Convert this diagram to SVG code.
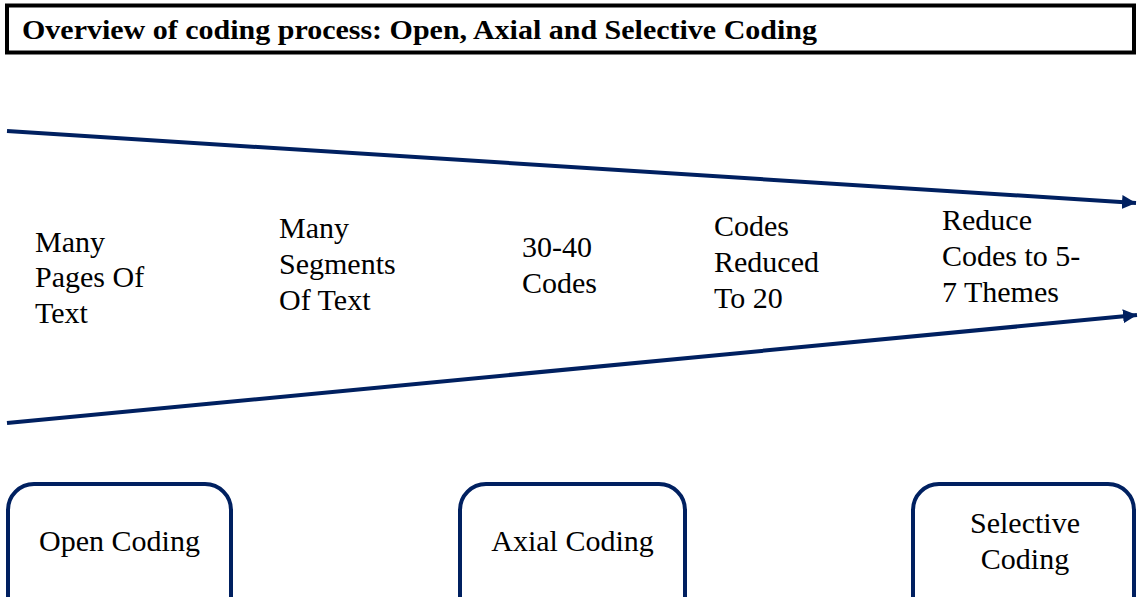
<svg xmlns="http://www.w3.org/2000/svg" width="1138" height="597" viewBox="0 0 1138 597">
<style>
.t{font-family:"Liberation Serif","Times New Roman",serif;font-size:30px;fill:#000}
.box{fill:#fff;stroke:#002060;stroke-width:4}
.ln{stroke:#002060;stroke-width:4;fill:none}
</style>
<defs>
<marker id="ah" markerUnits="userSpaceOnUse" markerWidth="16" markerHeight="16" refX="14" refY="7" orient="auto">
<path d="M0,0 L14,7 L0,14 Z" fill="#002060"/>
</marker>
</defs>
<rect width="1138" height="597" fill="#fff"/>
<g id="title">
<rect x="7" y="5.5" width="1127" height="47" fill="#fff" stroke="#000" stroke-width="4"/>
<text x="22" y="39" font-family="Liberation Serif,'Times New Roman',serif" font-size="28" font-weight="bold" textLength="795" lengthAdjust="spacingAndGlyphs">Overview of coding process: Open, Axial and Selective Coding</text>
</g>
<g id="connectors">
<line class="ln" x1="7" y1="131" x2="1136" y2="203" marker-end="url(#ah)"/>
<line class="ln" x1="7" y1="423" x2="1137" y2="315" marker-end="url(#ah)"/>
</g>
<g id="stage1"><text class="t" x="35" y="252">Many</text><text class="t" x="35" y="287">Pages Of</text><text class="t" x="35" y="323">Text</text></g>
<g id="stage2"><text class="t" x="279" y="238">Many</text><text class="t" x="279" y="274">Segments</text><text class="t" x="279" y="310">Of Text</text></g>
<g id="stage3"><text class="t" x="522" y="257">30-40</text><text class="t" x="522" y="293">Codes</text></g>
<g id="stage4"><text class="t" x="714" y="236">Codes</text><text class="t" x="714" y="272">Reduced</text><text class="t" x="714" y="308">To 20</text></g>
<g id="stage5"><text class="t" x="942" y="230">Reduce</text><text class="t" x="942" y="266">Codes to 5-</text><text class="t" x="942" y="302">7 Themes</text></g>
<g id="open"><rect class="box" x="8" y="484" width="223" height="140" rx="26"/><text class="t" x="119.5" y="551" text-anchor="middle">Open Coding</text></g>
<g id="axial"><rect class="box" x="460" y="484" width="225" height="140" rx="26"/><text class="t" x="572.5" y="551" text-anchor="middle">Axial Coding</text></g>
<g id="selective"><rect class="box" x="913" y="484" width="221" height="140" rx="26"/><text class="t" x="1025" y="533" text-anchor="middle">Selective</text><text class="t" x="1025" y="569" text-anchor="middle">Coding</text></g>
</svg>
